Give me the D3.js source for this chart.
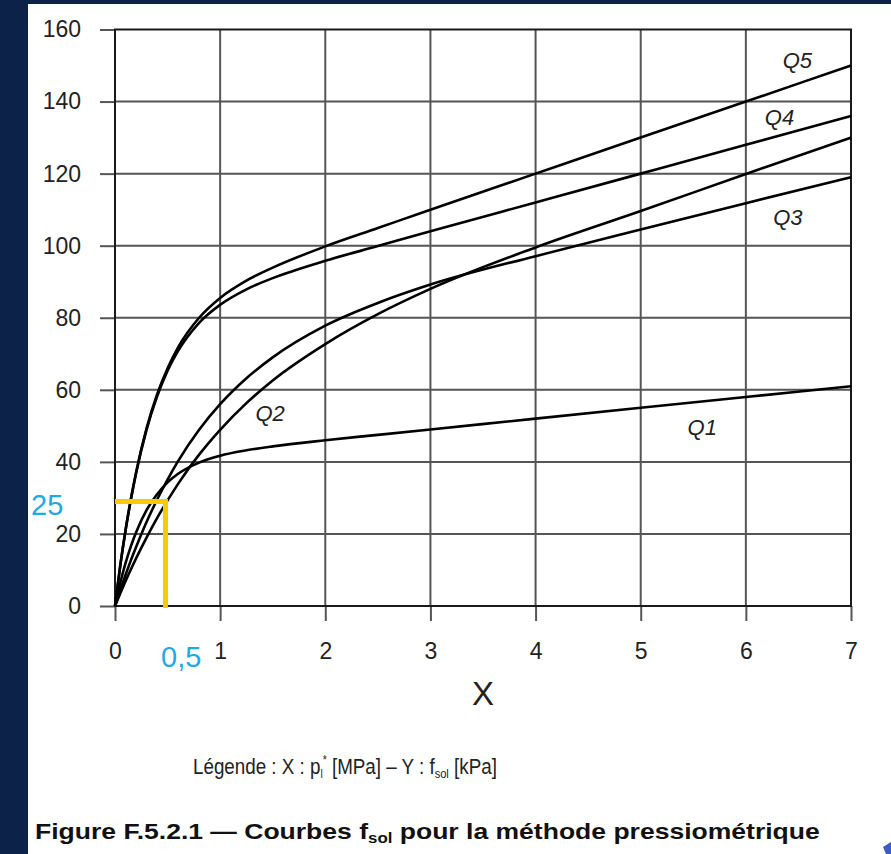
<!DOCTYPE html>
<html>
<head>
<meta charset="utf-8">
<script src="https://cdn.jsdelivr.net/npm/d3@7"></script>
<style>
  html, body { margin: 0; padding: 0; background: #0c2248; }
  svg { display: block; }
  text { font-family: "Liberation Sans", Arial, sans-serif; }
</style>
</head>
<body>
<svg id="chart" width="891" height="854"></svg>
<script>
// ---- data ----
const xValues = [0, 0.05, 0.1, 0.15, 0.2, 0.3, 0.4, 0.5, 0.6, 0.8, 1, 1.25, 1.5, 2, 2.5, 3, 4, 5, 6, 7];
const q1 = [0, 6.4, 11.9, 16.5, 20.4, 26.6, 31.0, 34.3, 36.7, 39.8, 41.7, 43.2, 44.3, 46.0, 47.5, 49, 52, 55, 58, 61];
const q2 = [0, 3.5, 6.9, 10.1, 13.2, 19.0, 24.4, 29.3, 33.9, 42.0, 48.9, 56.3, 62.6, 72.7, 81.0, 88.0, 99.5, 109.6, 119.9, 130];
const q3 = [0, 4.4, 8.6, 12.6, 16.3, 23.3, 29.5, 35.1, 40.2, 48.9, 56.0, 63.2, 69.0, 77.8, 84.1, 89.2, 97.1, 104.5, 111.8, 119];
const q4 = [0, 11.2, 20.9, 29.4, 36.8, 48.9, 58.1, 65.3, 70.8, 78.6, 83.6, 87.9, 91.0, 95.8, 99.9, 104, 112, 120, 128, 136];
const q5 = [0, 11.2, 21.0, 29.5, 37.0, 49.3, 58.7, 66.0, 71.8, 80.0, 85.5, 90.3, 93.9, 99.8, 104.9, 110, 120, 130, 140, 150];
const seriesNames = ["Q1", "Q2", "Q3", "Q4", "Q5"];
const seriesValues = [q1, q2, q3, q4, q5];
// label anchors (data coordinates, baseline)
const labelX = [5.585, 1.475, 6.40, 6.32, 6.49];
const labelY = [47.5, 51.4, 105.8, 133.6, 149.4];
const xTicks = [0, 1, 2, 3, 4, 5, 6, 7];
const yTicks = [0, 20, 40, 60, 80, 100, 120, 140, 160];
// yellow reading marker
const markX = 0.48;
const markY = 29;
const markLabelX = "0,5";
const markLabelY = "25";

// ---- drawing ----
const svg = d3.select("#chart");
const W = 891, H = 854;

svg.append("rect").attr("x", 0).attr("y", 0).attr("width", W).attr("height", H).attr("fill", "#0c2248");
svg.append("rect").attr("x", 28).attr("y", 4).attr("width", W - 28).attr("height", H - 4).attr("fill", "#ffffff");
svg.append("polygon").attr("points", "883,847 891,842 891,854 886,854").attr("fill", "#3b5bc9");

const x = d3.scaleLinear().domain([0, 7]).range([115, 851]);
const y = d3.scaleLinear().domain([0, 160]).range([606, 29.5]);

// grid
const grid = svg.append("g");
grid.selectAll("line.gx").data(xTicks.slice(1, -1)).join("line")
  .attr("x1", d => x(d)).attr("x2", d => x(d))
  .attr("y1", y(160)).attr("y2", y(0))
  .attr("stroke", "#555").attr("stroke-width", 2);
grid.selectAll("line.gy").data(yTicks.slice(1, -1)).join("line")
  .attr("y1", d => y(d)).attr("y2", d => y(d))
  .attr("x1", x(0)).attr("x2", x(7))
  .attr("stroke", "#555").attr("stroke-width", 2);

// axes
const yAxis = svg.append("g").attr("transform", `translate(${x(0)},0)`)
  .call(d3.axisLeft(y).tickValues(yTicks).tickSize(15).tickPadding(19).tickFormat(d3.format("d")));
const xAxis = svg.append("g").attr("transform", `translate(0,${y(0)})`)
  .call(d3.axisBottom(x).tickValues(xTicks).tickSize(15).tickPadding(22).tickFormat(d3.format("d")));
[yAxis, xAxis].forEach(g => {
  g.select(".domain").remove();
  g.selectAll(".tick line").attr("stroke", "#555").attr("stroke-width", 2);
  g.selectAll(".tick text").attr("fill", "#222").style("font-size", "23px")
    .style("font-family", "'Liberation Sans', Arial, sans-serif");
});

// frame
svg.append("rect").attr("x", x(0)).attr("y", y(160))
  .attr("width", x(7) - x(0)).attr("height", y(0) - y(160))
  .attr("fill", "none").attr("stroke", "#1a1a1a").attr("stroke-width", 2);

// curves
const line = d3.line().x(d => x(d[0])).y(d => y(d[1])).curve(d3.curveMonotoneX);
svg.append("g").selectAll("path").data(seriesValues).join("path")
  .attr("d", vals => line(xValues.map((xv, i) => [xv, vals[i]])))
  .attr("fill", "none").attr("stroke", "#000").attr("stroke-width", 2.6)
  .attr("stroke-linejoin", "round");

// curve labels
svg.append("g").selectAll("text").data(seriesNames).join("text")
  .attr("x", (d, i) => x(labelX[i])).attr("y", (d, i) => y(labelY[i]))
  .attr("text-anchor", "middle").attr("font-style", "italic")
  .style("font-size", "22px").attr("fill", "#222").text(d => d);

// yellow marker
const yel = "#fcc800";
svg.append("line").attr("x1", x(0)).attr("x2", x(markX) + 2.5).attr("y1", y(markY)).attr("y2", y(markY))
  .attr("stroke", yel).attr("stroke-width", 5);
svg.append("line").attr("x1", x(markX)).attr("x2", x(markX)).attr("y1", y(markY)).attr("y2", y(0) + 2)
  .attr("stroke", yel).attr("stroke-width", 5);
svg.append("text").attr("x", 31).attr("y", 515).attr("fill", "#22a9e3")
  .style("font-size", "29px").text(markLabelY);
svg.append("text").attr("x", 161).attr("y", 667).attr("fill", "#22a9e3")
  .style("font-size", "29px").text(markLabelX);

// axis title
svg.append("text").attr("x", 483).attr("y", 705).attr("text-anchor", "middle")
  .attr("fill", "#222").style("font-size", "33px").text("X");

// helper to fit text to measured width
function fitText(sel, left, baseline, width) {
  const w = sel.node().getComputedTextLength();
  sel.attr("transform", `translate(${left},${baseline}) scale(${width / w},1)`);
}

// legend
const leg = svg.append("text").attr("x", 0).attr("y", 0).attr("fill", "#222").style("font-size", "22px");
leg.append("tspan").text("Légende : X : p");
leg.append("tspan").attr("dy", 4).style("font-size", "12px").text("l");
leg.append("tspan").attr("dy", -14).style("font-size", "12px").text("*");
leg.append("tspan").attr("dy", 10).text(" [MPa] – Y : f");
leg.append("tspan").attr("dy", 4).style("font-size", "13px").text("sol");
leg.append("tspan").attr("dy", -4).text(" [kPa]");
fitText(leg, 193, 774, 304);

// caption
const cap = svg.append("text").attr("x", 0).attr("y", 0).attr("fill", "#111")
  .attr("font-weight", "bold").style("font-size", "22px");
cap.append("tspan").text("Figure F.5.2.1 — Courbes f");
cap.append("tspan").attr("dy", 4).style("font-size", "14px").text("sol");
cap.append("tspan").attr("dy", -4).text(" pour la méthode pressiométrique");
fitText(cap, 35, 839, 785);
</script>
</body>
</html>
